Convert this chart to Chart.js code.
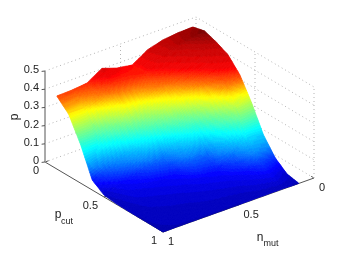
<!DOCTYPE html>
<html>
<head>
<meta charset="utf-8">
<title>p over n_mut and p_cut</title>
<script src="https://cdn.jsdelivr.net/npm/chart.js@4"></script>
<style>
  html, body { margin: 0; padding: 0; background: #fff; }
  canvas { display: block; }
</style>
</head>
<body>
<canvas id="chart" width="346" height="260"></canvas>
<script>
// grid of the surface
const nmutValues = [0.1, 0.2, 0.3, 0.4, 0.5, 0.6, 0.7, 0.8, 0.9, 1];
const pcutValues = [0.1, 0.2, 0.3, 0.4, 0.5, 0.6, 0.7, 0.8, 0.9, 1];

// p along pcut, one list per nmut
const pAtN01 = [0.513, 0.53, 0.507, 0.475, 0.404, 0.288, 0.151, 0.063, 0.013, 0];
const pAtN02 = [0.51, 0.515, 0.49, 0.44, 0.38, 0.285, 0.155, 0.075, 0.035, 0.002];
const pAtN03 = [0.5, 0.5, 0.45, 0.39, 0.31, 0.195, 0.085, 0.047, 0.025, 0.002];
const pAtN04 = [0.476, 0.46, 0.405, 0.34, 0.22, 0.09, 0.052, 0.032, 0.015, 0.002];
const pAtN05 = [0.423, 0.42, 0.375, 0.285, 0.165, 0.085, 0.042, 0.025, 0.012, 0.001];
const pAtN06 = [0.436, 0.41, 0.335, 0.235, 0.095, 0.05, 0.032, 0.02, 0.01, 0.001];
const pAtN07 = [0.464, 0.395, 0.315, 0.18, 0.08, 0.038, 0.025, 0.014, 0.008, 0.001];
const pAtN08 = [0.413, 0.37, 0.26, 0.125, 0.055, 0.032, 0.02, 0.012, 0.006, 0.001];
const pAtN09 = [0.404, 0.34, 0.21, 0.09, 0.04, 0.025, 0.015, 0.008, 0.004, 0.001];
const pAtN10 = [0.401, 0.34, 0.214, 0.055, 0.011, 0.004, 0.002, 0.001, 0.001, 0];
const pValues = [pAtN01, pAtN02, pAtN03, pAtN04, pAtN05, pAtN06, pAtN07, pAtN08, pAtN09, pAtN10];

// tick labels
const pTicks = [0, 0.1, 0.2, 0.3, 0.4, 0.5];
const pcutTicks = [0, 0.5, 1];
const nmutTicks = [0, 0.5, 1];

// where the colours of the jet map fall on p
const colorP = [0, 0.04, 0.1, 0.18, 0.26, 0.33, 0.375, 0.43, 0.5, 0.53];
const colorT = [0.06, 0.125, 0.25, 0.375, 0.5, 0.625, 0.75, 0.875, 0.93, 1];

// view: where the corner nmut=0, pcut=0, p=0 lands and what one unit of each axis moves
const view = { x0: 196, y0: 108, nx: -151, ny: 54, px: 118, py: 70, zy: -182 };

function project(n, c, p) {
  return {
    x: view.x0 + view.nx * n + view.px * c,
    y: view.y0 + view.ny * n + view.py * c + view.zy * p
  };
}

function colorPosition(p) {
  for (let i = 0; i < colorP.length - 1; i++) {
    if (p <= colorP[i + 1]) {
      return colorT[i] + (colorT[i + 1] - colorT[i]) * (p - colorP[i]) / (colorP[i + 1] - colorP[i]);
    }
  }
  return 1;
}

// matlab jet, 64 steps
function jet(value) {
  const level = Math.min(63, Math.max(0, Math.floor(colorPosition(value) * 64)));
  const t = level / 63;
  const ch = (v) => Math.round(255 * Math.min(1, Math.max(0, 1.5 - Math.abs(4 * t - v))));
  return `rgb(${ch(3)},${ch(2)},${ch(1)})`;
}

function line(points, color, dash) {
  return {
    data: points,
    showLine: true,
    pointRadius: 0,
    borderColor: color,
    borderWidth: 1,
    borderDash: dash || [],
    fill: false
  };
}

const gridColor = "#b4b4b4";
const axisColor = "#555555";
const dots = [1, 3];
const datasets = [];

// grid on the two back walls and the floor
pTicks.forEach((p) => {
  datasets.push(line([project(1, 0, p), project(0, 0, p), project(0, 1, p)], gridColor, dots));
});
datasets.push(line([project(0, 0, 0), project(0, 0, 0.5)], gridColor, dots));
datasets.push(line([project(0.5, 0, 0), project(0.5, 0, 0.5)], gridColor, dots));
datasets.push(line([project(0, 0.5, 0), project(0, 0.5, 0.5)], gridColor, dots));
datasets.push(line([project(0, 1, 0), project(0, 1, 0.5)], gridColor, dots));

// axis lines
datasets.push(line([project(1, 0, 0), project(1, 0, 0.5)], axisColor));
datasets.push(line([project(1, 0, 0), project(1, 1, 0), project(0, 1, 0)], axisColor));

// ticks
const tickLen = 0.024;
pTicks.forEach((p) => {
  datasets.push(line([project(1, 0, p), project(1 + tickLen * 0.7, 0 - tickLen * 0.3, p)], axisColor));
});
pcutTicks.forEach((c) => {
  datasets.push(line([project(1, c, 0), project(1 - tickLen, c, 0)], axisColor));
});
nmutTicks.forEach((n) => {
  datasets.push(line([project(n, 1, 0), project(n, 1 - tickLen, 0)], axisColor));
});

// surface vertices, the fill below is painted on top of them
const surfacePoints = [];
nmutValues.forEach((n, i) => {
  pcutValues.forEach((c, j) => surfacePoints.push(project(n, c, pValues[i][j])));
});
datasets.push({ data: surfacePoints, showLine: false, pointRadius: 0 });

const surfacePlugin = {
  id: "surface",
  afterDatasetsDraw(chart) {
    const ctx = chart.ctx;
    const xs = chart.scales.x;
    const ys = chart.scales.y;
    const steps = 14;

    const px = (pt) => ({ x: xs.getPixelForValue(pt.x), y: ys.getPixelForValue(pt.y) });

    ctx.save();
    ctx.lineWidth = 0.7;
    // back corner first, front corner last
    for (let i = 0; i < nmutValues.length - 1; i++) {
      for (let j = 0; j < pcutValues.length - 1; j++) {
        const n0 = nmutValues[i], n1 = nmutValues[i + 1];
        const c0 = pcutValues[j], c1 = pcutValues[j + 1];
        const a = pValues[i][j], b = pValues[i][j + 1];
        const d = pValues[i + 1][j], e = pValues[i + 1][j + 1];
        const at = (u, v) => {
          const p = a * (1 - u) * (1 - v) + b * (1 - u) * v + d * u * (1 - v) + e * u * v;
          return { pt: px(project(n0 + (n1 - n0) * u, c0 + (c1 - c0) * v, p)), p };
        };
        for (let s = 0; s < steps; s++) {
          for (let t = 0; t < steps; t++) {
            const q1 = at(s / steps, t / steps);
            const q2 = at(s / steps, (t + 1) / steps);
            const q3 = at((s + 1) / steps, (t + 1) / steps);
            const q4 = at((s + 1) / steps, t / steps);
            const color = jet((q1.p + q2.p + q3.p + q4.p) / 4);
            ctx.fillStyle = color;
            ctx.strokeStyle = color;
            ctx.beginPath();
            ctx.moveTo(q1.pt.x, q1.pt.y);
            ctx.lineTo(q2.pt.x, q2.pt.y);
            ctx.lineTo(q3.pt.x, q3.pt.y);
            ctx.lineTo(q4.pt.x, q4.pt.y);
            ctx.closePath();
            ctx.fill();
            ctx.stroke();
          }
        }
      }
    }
    ctx.restore();

    // tick labels and axis titles
    const text = (label, x, y, size, align) => {
      ctx.font = size + "px 'Liberation Sans'";
      ctx.textAlign = align || "center";
      ctx.textBaseline = "middle";
      ctx.fillText(label, xs.getPixelForValue(x), ys.getPixelForValue(y));
    };
    ctx.save();
    ctx.fillStyle = "#222222";
    pTicks.forEach((p) => {
      const pos = project(1, 0, p);
      text(String(p), pos.x - 6, pos.y - 1, 11, "right");
    });
    pcutTicks.forEach((c) => {
      const pos = project(1, c, 0);
      text(String(c), pos.x - 6, pos.y + 9, 11, "right");
    });
    nmutTicks.forEach((n) => {
      const pos = project(n, 1, 0);
      text(String(n), pos.x + 5, pos.y + 10, 11, "left");
    });
    text("p", 58, 215, 12);
    text("cut", 67, 222, 9);
    text("n", 260, 238, 12);
    text("mut", 271, 244, 9);

    ctx.translate(xs.getPixelForValue(15), ys.getPixelForValue(117));
    ctx.rotate(-Math.PI / 2);
    ctx.font = "12px 'Liberation Sans'";
    ctx.textAlign = "center";
    ctx.textBaseline = "middle";
    ctx.fillText("p", 0, 0);
    ctx.restore();
  }
};

new Chart(document.getElementById("chart").getContext("2d"), {
  type: "scatter",
  data: { datasets },
  plugins: [surfacePlugin],
  options: {
    responsive: false,
    animation: false,
    layout: { padding: 0 },
    plugins: { legend: { display: false }, tooltip: { enabled: false } },
    scales: {
      x: { type: "linear", display: false, min: 0, max: 346 },
      y: { type: "linear", display: false, min: 0, max: 260, reverse: true }
    }
  }
});
</script>
</body>
</html>
